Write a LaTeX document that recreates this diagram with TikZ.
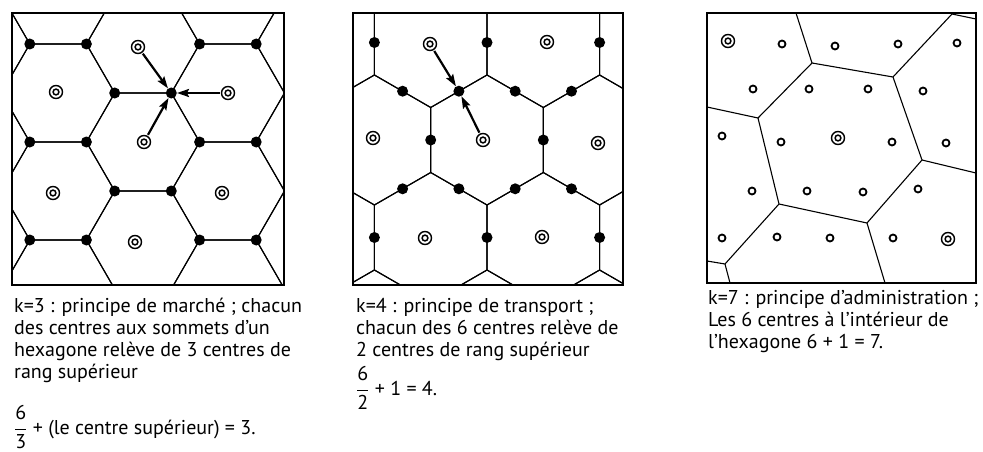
\documentclass[tikz,border=0pt]{standalone}
\usepackage{fontspec}
\setmainfont{PT Sans}
\usetikzlibrary{arrows.meta}

\begin{document}
\begin{tikzpicture}[x=1pt,y=-1pt]
\tikzstyle{cadre}=[line width=1.6pt]
\tikzstyle{arete}=[line width=1.1pt]
\tikzstyle{sommet}=[circle, fill=black, inner sep=0pt, minimum size=11pt]
\tikzstyle{rang}=[circle, draw, line width=1.4pt, inner sep=0pt, minimum size=13pt,
  path picture={\draw[line width=1.5pt] (path picture bounding box.center) circle (2.9pt);}]
\tikzstyle{petit}=[circle, draw, line width=1.8pt, inner sep=0pt, minimum size=7pt]
\tikzstyle{connect}=[-{Stealth[length=12pt,width=8pt,inset=2pt]}, line width=2.2pt, shorten <=1pt]
\tikzstyle{legende}=[anchor=north west, align=left, inner sep=0pt, font=\fontsize{20}{22}\selectfont]
\useasboundingbox (0,0) rectangle (983,452);

% k=3 : market principle
\begin{scope}
  \clip (12,13) rectangle (284,285);
  \foreach \cx/\cy in {143/-54,143/44,143/142,143/240,143/338,58.1/-5,58.1/93,58.1/191,58.1/289,
      227.9/-5,227.9/93,227.9/191,227.9/289,-26.8/44,-26.8/142,-26.8/240,312.8/44,312.8/142,312.8/240}
    \draw[arete] (\cx,\cy) +(0:56.6) -- +(60:56.6) -- +(120:56.6) -- +(180:56.6) -- +(240:56.6) -- +(300:56.6) -- cycle;
\end{scope}
\draw[cadre] (12,13) rectangle (284,285);
\foreach \x/\y/\n in {29.8/44/a1,86.4/44/a2,199.6/44/a3,256.2/44/a4,114.7/93/a5,171.3/93/a6,
    29.8/142/a7,86.4/142/a8,199.6/142/a9,256.2/142/a10,114.7/191/a11,171.3/191/a12,
    29.8/240/a13,86.4/240/a14,199.6/240/a15,256.2/240/a16}
  \node[sommet] (\n) at (\x,\y) {};
\node[rang] (s1) at (138,47) {};
\node[rang] (s2) at (56,92) {};
\node[rang] (s3) at (228,93) {};
\node[rang] (s4) at (144,142) {};
\node[rang] (s5) at (53,193) {};
\node[rang] (s6) at (222,193) {};
\node[rang] (s7) at (135,242) {};
\path
  (s1) edge [connect] (a6)
  (s3) edge [connect] (a6)
  (s4) edge [connect] (a6);

% k=4 : transport principle
\begin{scope}
  \clip (353,13) rectangle (623,285);
  \foreach \cx/\cy in {430.7/42.5,543.3/42.5,318.1/42.5,655.9/42.5,374.4/140,487/140,599.6/140,261.8/140,712.2/140,
      430.7/237.5,543.3/237.5,318.1/237.5,655.9/237.5,374.4/335,487/335,599.6/335,374.4/-55,487/-55,599.6/-55}
    \draw[arete] (\cx,\cy) +(30:65) -- +(90:65) -- +(150:65) -- +(210:65) -- +(270:65) -- +(330:65) -- cycle;
\end{scope}
\draw[cadre] (353,13) rectangle (623,285);
\foreach \x/\y/\n in {374.4/42.5/b1,487/42.5/b2,599.6/42.5/b3,430.7/140/b4,543.3/140/b5,
    374.4/237.5/b6,487/237.5/b7,599.6/237.5/b8,402.6/91.2/b9,458.9/91.2/b10,515.2/91.2/b11,571.5/91.2/b12,
    402.6/188.8/b13,458.9/188.8/b14,515.2/188.8/b15,571.5/188.8/b16}
  \node[sommet] (\n) at (\x,\y) {};
\node[rang] (t1) at (430,44) {};
\node[rang] (t2) at (547,42) {};
\node[rang] (t3) at (373,138) {};
\node[rang] (t4) at (483,140) {};
\node[rang] (t5) at (598,143) {};
\node[rang] (t6) at (425,238) {};
\node[rang] (t7) at (542,237) {};
\path
  (t1) edge [connect] (b10)
  (t4) edge [connect] (b10);

% k=7 : administrative principle
\coordinate (hA) at (812,63);
\coordinate (hB) at (893,77);
\coordinate (hC) at (922,160);
\coordinate (hD) at (867,223);
\coordinate (hE) at (779,204);
\coordinate (hF) at (758,118);
\coordinate (hG) at (952,14);
\coordinate (hH) at (725,264);
\draw[arete] (hA) -- (hB) -- (hC) -- (hD) -- (hE) -- (hF) -- cycle;
\draw[arete] (hA) -- (796,13);
\draw[arete] (hB) -- (hG) -- (976,19);
\draw[arete] (hC) -- (976,173);
\draw[arete] (hD) -- (885,283);
\draw[arete] (hE) -- (hH) -- (707,261);
\draw[arete] (hH) -- (730,283);
\draw[arete] (hF) -- (707,107);
\draw[cadre] (707,13) rectangle (976,283);
\foreach \x/\y/\n in {782/44/c1,835/46/c2,898/44/c3,957/43/c4,753/89/c5,809/89/c6,868/89/c7,923/91/c8,
    722/136/c9,781/142/c10,892/142/c11,946/143/c12,752/191/c13,807/191/c14,863/192/c15,918/189/c16,
    722/238/c17,777/237/c18,830/238/c19,893/238/c20}
  \node[petit] (\n) at (\x,\y) {};
\node[rang] (u1) at (728,41) {};
\node[rang] (u2) at (838,138) {};
\node[rang] (u3) at (948,239) {};

% captions
\node[legende] (texte3) at (14,298) {k=3 : principe de marché ; chacun\\des centres aux sommets d’un\\hexagone relève de 3 centres de\\rang supérieur};
\node[legende, anchor=base west] (calcul3) at (14,434) {\(\displaystyle\frac{\mbox{6}}{\mbox{3}}\) + (le centre supérieur) = 3.};
\node[legende] (texte4) at (356,298) {k=4 : principe de transport ;\\chacun des 6 centres relève de\\2 centres de rang supérieur};
\node[legende, anchor=base west] (calcul4) at (356,395) {\(\displaystyle\frac{\mbox{6}}{\mbox{2}}\) + 1 = 4.};
\node[legende] (texte7) at (708,290) {k=7 : principe d’administration ;\\Les 6 centres à l’intérieur de\\l’hexagone 6 + 1 = 7.};
\end{tikzpicture}
\end{document}
